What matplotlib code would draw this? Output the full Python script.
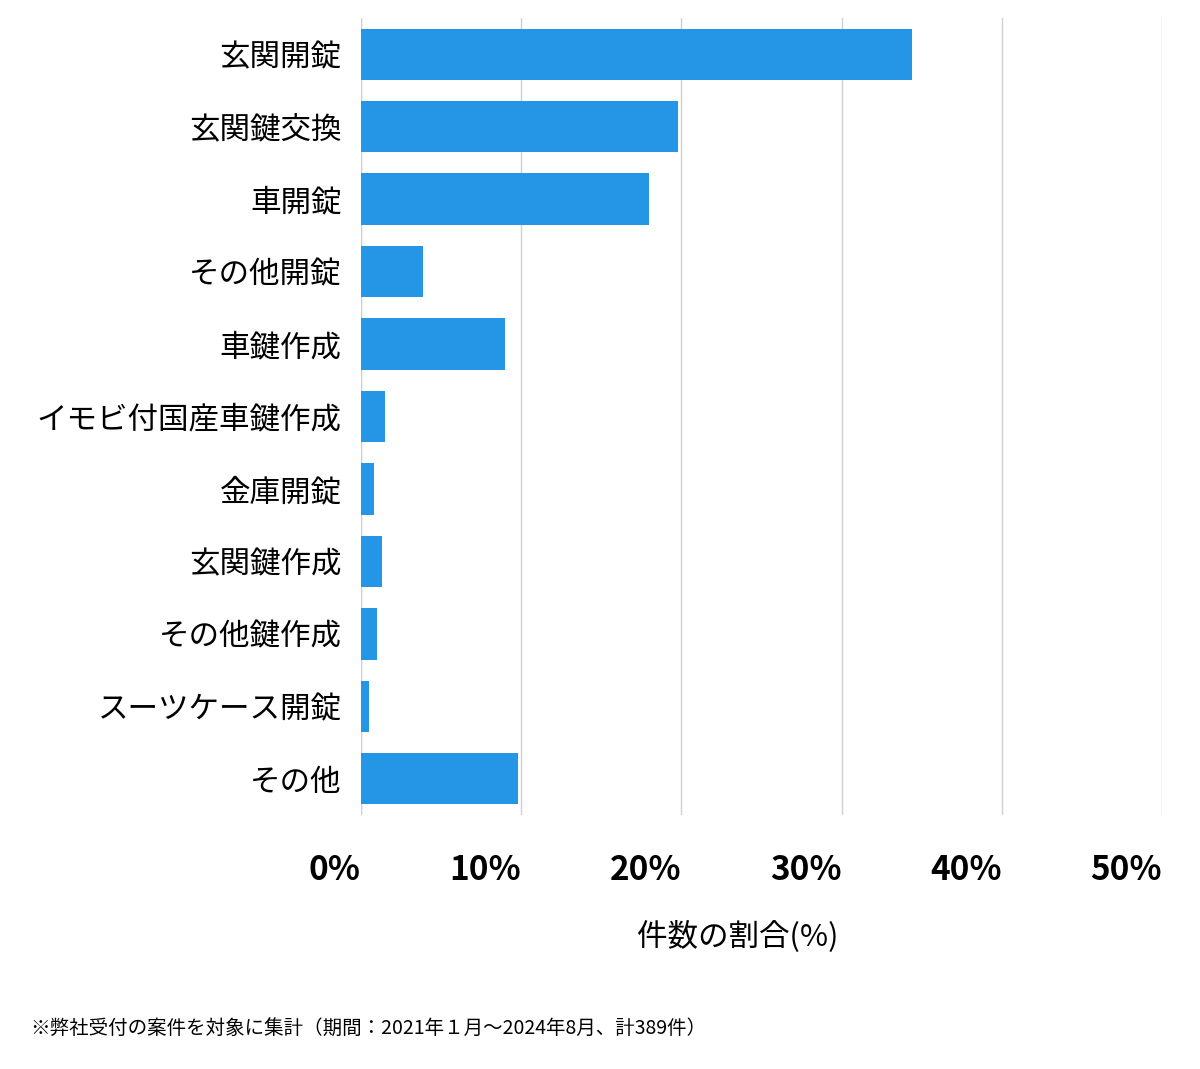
import matplotlib.pyplot as plt
from matplotlib.ticker import FixedLocator

plt.rcParams["font.family"] = "Noto Sans CJK JP"

categories = ["玄関開錠", "玄関鍵交換", "車開錠", "その他開錠", "車鍵作成",
              "イモビ付国産車鍵作成", "金庫開錠", "玄関鍵作成", "その他鍵作成",
              "スーツケース開錠", "その他"]
shares = [34.4, 19.8, 18.0, 3.9, 9.0, 1.5, 0.8, 1.3, 1.0, 0.5, 9.8]
tick_values = [0, 10, 20, 30, 40, 50]
tick_labels = ["0%", "10%", "20%", "30%", "40%", "50%"]

fig = plt.figure(figsize=(12, 10.69), dpi=100)
ax = fig.add_axes([361/1200, 1 - 815/1069, 801/1200, 797/1069])

y = list(range(len(categories)))
ax.barh(y, shares, height=0.71, color="#2596e6", zorder=3)
ax.set_ylim(len(categories) - 0.5, -0.5)
ax.set_xlim(0, 50)
ax.set_yticks(y)
ax.set_yticklabels(categories, fontsize=22)
ax.xaxis.set_major_locator(FixedLocator(tick_values))
ax.set_xticklabels(tick_labels, fontsize=24, fontweight="bold", ha="right")
ax.tick_params(axis="both", length=0)
ax.tick_params(axis="x", pad=28)
ax.tick_params(axis="y", pad=14)
ax.grid(axis="x", color="#d0d0d0", linewidth=1, zorder=0)
for s in ax.spines.values():
    s.set_visible(False)
ax.axvline(0, color="#d0d0d0", linewidth=1, zorder=0)

fig.text(738/1200, 1 - 936/1069, "件数の割合(%)", fontsize=22, ha="center", va="center")
fig.text(30/1200, 1 - 1028/1069,
         "※弊社受付の案件を対象に集計（期間：2021年１月〜2024年8月、計389件）",
         fontsize=14, ha="left", va="center")

fig.savefig("out.png", dpi=100, facecolor="white")
